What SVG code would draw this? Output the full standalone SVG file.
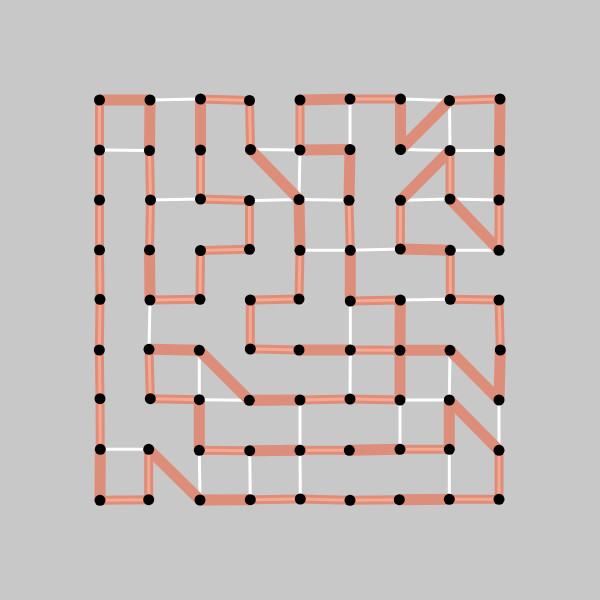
<svg xmlns="http://www.w3.org/2000/svg" xmlns:xlink="http://www.w3.org/1999/xlink" width="600" height="600" viewBox="0 0 600 600">
<style>
.w{stroke:#ffffff;stroke-width:3;fill:none}
.s{stroke:#dd8e7a;stroke-width:11;fill:none}
.p{stroke:#dd8e7a;stroke-width:9;fill:none}
.pi{stroke:#f7a890;stroke-width:3;fill:none}
.n{fill:#000000}
</style>
<rect width="600" height="600" fill="#c8c8c8"/>
<g id="connectors">
<g id="white-edges" class="w">
<line x1="150" y1="100" x2="200.5" y2="99"/>
<line x1="400.5" y1="99" x2="449.5" y2="100.5"/>
<line x1="350" y1="99" x2="350" y2="149.5"/>
<line x1="449.5" y1="100.5" x2="450" y2="150.5"/>
<line x1="99.5" y1="150" x2="149.5" y2="150.5"/>
<line x1="250.5" y1="149.5" x2="300" y2="150"/>
<line x1="400.5" y1="149.5" x2="450" y2="150.5"/>
<line x1="450" y1="150.5" x2="499.5" y2="150.5"/>
<line x1="300" y1="150" x2="299" y2="199.5"/>
<line x1="150.5" y1="200" x2="200.5" y2="199"/>
<line x1="249.5" y1="200.5" x2="299" y2="199.5"/>
<line x1="299" y1="199.5" x2="349" y2="200.3"/>
<line x1="400.5" y1="200.3" x2="450" y2="199"/>
<line x1="450" y1="199" x2="499" y2="200"/>
<line x1="300" y1="250.3" x2="350.3" y2="250.3"/>
<line x1="350.3" y1="250.3" x2="400.3" y2="249"/>
<line x1="450.3" y1="250.3" x2="499" y2="250.3"/>
<line x1="400.3" y1="300" x2="450.3" y2="299.3"/>
<line x1="150" y1="300" x2="149" y2="349.3"/>
<line x1="350.3" y1="301" x2="350.3" y2="350"/>
<line x1="199.3" y1="350.3" x2="199.3" y2="399.7"/>
<line x1="350.3" y1="350" x2="350" y2="399"/>
<line x1="450" y1="350.3" x2="449.3" y2="400"/>
<line x1="199.3" y1="399.7" x2="249.3" y2="400.3"/>
<line x1="400" y1="400" x2="449.3" y2="400"/>
<line x1="300" y1="400" x2="300" y2="450.3"/>
<line x1="400" y1="400" x2="400" y2="449.3"/>
<line x1="499" y1="400" x2="499" y2="450.3"/>
<line x1="100.3" y1="449.3" x2="148.7" y2="449.3"/>
<line x1="199.3" y1="450.3" x2="200" y2="500"/>
<line x1="249.7" y1="450.7" x2="250.3" y2="499.7"/>
<line x1="300" y1="450.3" x2="300.3" y2="499"/>
<line x1="449.3" y1="449.3" x2="449.3" y2="499.3"/>
</g>
<g id="solid-edges" class="s">
<line x1="99.5" y1="100" x2="150" y2="100"/>
<line x1="300" y1="100" x2="350" y2="99"/>
<line x1="150" y1="100" x2="149.5" y2="150.5"/>
<line x1="200.5" y1="99" x2="200.5" y2="150"/>
<line x1="400.5" y1="99" x2="400.5" y2="149.5"/>
<line x1="500" y1="99" x2="499.5" y2="150.5"/>
<line x1="400.5" y1="149.5" x2="449.5" y2="100.5"/>
<line x1="250.5" y1="149.5" x2="299" y2="199.5"/>
<line x1="300" y1="150" x2="350" y2="149.5"/>
<line x1="350" y1="149.5" x2="349" y2="200.3"/>
<line x1="499.5" y1="150.5" x2="499" y2="200"/>
<line x1="450" y1="150.5" x2="400.5" y2="200.3"/>
<line x1="299" y1="199.5" x2="300" y2="250.3"/>
<line x1="450" y1="199" x2="499" y2="250.3"/>
<line x1="400.3" y1="249" x2="450.3" y2="250.3"/>
<line x1="149.5" y1="250" x2="150" y2="300"/>
<line x1="350.3" y1="250.3" x2="350.3" y2="301"/>
<line x1="400.3" y1="300" x2="400" y2="350.3"/>
<line x1="149" y1="349.3" x2="199.3" y2="350.3"/>
<line x1="199.3" y1="350.3" x2="249.3" y2="400.3"/>
<line x1="299" y1="350" x2="350.3" y2="350"/>
<line x1="400" y1="350.3" x2="450" y2="350.3"/>
<line x1="450" y1="350.3" x2="499" y2="400"/>
<line x1="400" y1="350.3" x2="400" y2="400"/>
<line x1="500.3" y1="350" x2="499" y2="400"/>
<line x1="249.3" y1="400.3" x2="300" y2="400"/>
<line x1="199.3" y1="399.7" x2="199.3" y2="450.3"/>
<line x1="449.3" y1="400" x2="449.3" y2="449.3"/>
<line x1="449.3" y1="400" x2="499" y2="450.3"/>
<line x1="148.7" y1="449.3" x2="200" y2="500"/>
<line x1="249.7" y1="450.7" x2="300" y2="450.3"/>
<line x1="349.3" y1="450.3" x2="400" y2="449.3"/>
<line x1="100.3" y1="449.3" x2="100" y2="500.3"/>
<line x1="200" y1="500" x2="250.3" y2="499.7"/>
<line x1="399.3" y1="499.7" x2="449.3" y2="499.3"/>
</g>
<g id="striped-edges">
<defs>
<line id="p1" x1="200.5" y1="99" x2="249.5" y2="100.5"/>
<line id="p2" x1="350" y1="99" x2="400.5" y2="99"/>
<line id="p3" x1="449.5" y1="100.5" x2="500" y2="99"/>
<line id="p4" x1="99.5" y1="100" x2="99.5" y2="150"/>
<line id="p5" x1="249.5" y1="100.5" x2="250.5" y2="149.5"/>
<line id="p6" x1="300" y1="100" x2="300" y2="150"/>
<line id="p7" x1="99.5" y1="150" x2="99.5" y2="200"/>
<line id="p8" x1="149.5" y1="150.5" x2="150.5" y2="200"/>
<line id="p9" x1="200.5" y1="150" x2="200.5" y2="199"/>
<line id="p10" x1="450" y1="150.5" x2="450" y2="199"/>
<line id="p11" x1="200.5" y1="199" x2="249.5" y2="200.5"/>
<line id="p12" x1="99.5" y1="200" x2="99.5" y2="250"/>
<line id="p13" x1="150.5" y1="200" x2="149.5" y2="250"/>
<line id="p14" x1="249.5" y1="200.5" x2="249.5" y2="249.3"/>
<line id="p15" x1="349" y1="200.3" x2="350.3" y2="250.3"/>
<line id="p16" x1="400.5" y1="200.3" x2="400.3" y2="249"/>
<line id="p17" x1="499" y1="200" x2="499" y2="250.3"/>
<line id="p18" x1="200.5" y1="250.5" x2="249.5" y2="249.3"/>
<line id="p19" x1="99.5" y1="250" x2="100" y2="299.3"/>
<line id="p20" x1="200.5" y1="250.5" x2="200" y2="299.3"/>
<line id="p21" x1="300" y1="250.3" x2="299" y2="299"/>
<line id="p22" x1="450.3" y1="250.3" x2="450.3" y2="299.3"/>
<line id="p23" x1="150" y1="300" x2="200" y2="299.3"/>
<line id="p24" x1="250.3" y1="300" x2="299" y2="299"/>
<line id="p25" x1="350.3" y1="301" x2="400.3" y2="300"/>
<line id="p26" x1="450.3" y1="299.3" x2="499" y2="300"/>
<line id="p27" x1="100" y1="299.3" x2="99.3" y2="350"/>
<line id="p28" x1="250.3" y1="300" x2="250.3" y2="349"/>
<line id="p29" x1="499" y1="300" x2="500.3" y2="350"/>
<line id="p30" x1="250.3" y1="349" x2="299" y2="350"/>
<line id="p31" x1="350.3" y1="350" x2="400" y2="350.3"/>
<line id="p32" x1="99.3" y1="350" x2="100" y2="398.7"/>
<line id="p33" x1="149" y1="349.3" x2="150.3" y2="398.7"/>
<line id="p34" x1="150.3" y1="398.7" x2="199.3" y2="399.7"/>
<line id="p35" x1="300" y1="400" x2="350" y2="399"/>
<line id="p36" x1="350" y1="399" x2="400" y2="400"/>
<line id="p37" x1="100" y1="398.7" x2="100.3" y2="449.3"/>
<line id="p38" x1="199.3" y1="450.3" x2="249.7" y2="450.7"/>
<line id="p39" x1="300" y1="450.3" x2="349.3" y2="450.3"/>
<line id="p40" x1="400" y1="449.3" x2="449.3" y2="449.3"/>
<line id="p41" x1="148.7" y1="449.3" x2="148.7" y2="499.7"/>
<line id="p42" x1="499" y1="450.3" x2="499" y2="499.3"/>
<line id="p43" x1="100" y1="500.3" x2="148.7" y2="499.7"/>
<line id="p44" x1="250.3" y1="499.7" x2="300.3" y2="499"/>
<line id="p45" x1="300.3" y1="499" x2="350" y2="500.3"/>
<line id="p46" x1="350" y1="500.3" x2="399.3" y2="499.7"/>
<line id="p47" x1="449.3" y1="499.3" x2="499" y2="499.3"/>
</defs>
<g class="p">
<use xlink:href="#p1"/><use xlink:href="#p2"/><use xlink:href="#p3"/><use xlink:href="#p4"/><use xlink:href="#p5"/><use xlink:href="#p6"/><use xlink:href="#p7"/><use xlink:href="#p8"/><use xlink:href="#p9"/><use xlink:href="#p10"/><use xlink:href="#p11"/><use xlink:href="#p12"/><use xlink:href="#p13"/><use xlink:href="#p14"/><use xlink:href="#p15"/><use xlink:href="#p16"/><use xlink:href="#p17"/><use xlink:href="#p18"/><use xlink:href="#p19"/><use xlink:href="#p20"/><use xlink:href="#p21"/><use xlink:href="#p22"/><use xlink:href="#p23"/><use xlink:href="#p24"/><use xlink:href="#p25"/><use xlink:href="#p26"/><use xlink:href="#p27"/><use xlink:href="#p28"/><use xlink:href="#p29"/><use xlink:href="#p30"/><use xlink:href="#p31"/><use xlink:href="#p32"/><use xlink:href="#p33"/><use xlink:href="#p34"/><use xlink:href="#p35"/><use xlink:href="#p36"/><use xlink:href="#p37"/><use xlink:href="#p38"/><use xlink:href="#p39"/><use xlink:href="#p40"/><use xlink:href="#p41"/><use xlink:href="#p42"/><use xlink:href="#p43"/><use xlink:href="#p44"/><use xlink:href="#p45"/><use xlink:href="#p46"/><use xlink:href="#p47"/>
</g>
<g class="pi">
<use xlink:href="#p1"/><use xlink:href="#p2"/><use xlink:href="#p3"/><use xlink:href="#p4"/><use xlink:href="#p5"/><use xlink:href="#p6"/><use xlink:href="#p7"/><use xlink:href="#p8"/><use xlink:href="#p9"/><use xlink:href="#p10"/><use xlink:href="#p11"/><use xlink:href="#p12"/><use xlink:href="#p13"/><use xlink:href="#p14"/><use xlink:href="#p15"/><use xlink:href="#p16"/><use xlink:href="#p17"/><use xlink:href="#p18"/><use xlink:href="#p19"/><use xlink:href="#p20"/><use xlink:href="#p21"/><use xlink:href="#p22"/><use xlink:href="#p23"/><use xlink:href="#p24"/><use xlink:href="#p25"/><use xlink:href="#p26"/><use xlink:href="#p27"/><use xlink:href="#p28"/><use xlink:href="#p29"/><use xlink:href="#p30"/><use xlink:href="#p31"/><use xlink:href="#p32"/><use xlink:href="#p33"/><use xlink:href="#p34"/><use xlink:href="#p35"/><use xlink:href="#p36"/><use xlink:href="#p37"/><use xlink:href="#p38"/><use xlink:href="#p39"/><use xlink:href="#p40"/><use xlink:href="#p41"/><use xlink:href="#p42"/><use xlink:href="#p43"/><use xlink:href="#p44"/><use xlink:href="#p45"/><use xlink:href="#p46"/><use xlink:href="#p47"/>
</g>
</g>
</g>
<g id="nodes" class="n">
<g id="n0-0"><circle cx="99.5" cy="100" r="5.5"/></g>
<g id="n1-0"><circle cx="150" cy="100" r="5.5"/></g>
<g id="n2-0"><circle cx="200.5" cy="99" r="5.5"/></g>
<g id="n3-0"><circle cx="249.5" cy="100.5" r="5.5"/></g>
<g id="n4-0"><circle cx="300" cy="100" r="5.5"/></g>
<g id="n5-0"><circle cx="350" cy="99" r="5.5"/></g>
<g id="n6-0"><circle cx="400.5" cy="99" r="5.5"/></g>
<g id="n7-0"><circle cx="449.5" cy="100.5" r="5.5"/></g>
<g id="n8-0"><circle cx="500" cy="99" r="5.5"/></g>
<g id="n0-1"><circle cx="99.5" cy="150" r="5.5"/></g>
<g id="n1-1"><circle cx="149.5" cy="150.5" r="5.5"/></g>
<g id="n2-1"><circle cx="200.5" cy="150" r="5.5"/></g>
<g id="n3-1"><circle cx="250.5" cy="149.5" r="5.5"/></g>
<g id="n4-1"><circle cx="300" cy="150" r="5.5"/></g>
<g id="n5-1"><circle cx="350" cy="149.5" r="5.5"/></g>
<g id="n6-1"><circle cx="400.5" cy="149.5" r="5.5"/></g>
<g id="n7-1"><circle cx="450" cy="150.5" r="5.5"/></g>
<g id="n8-1"><circle cx="499.5" cy="150.5" r="5.5"/></g>
<g id="n0-2"><circle cx="99.5" cy="200" r="5.5"/></g>
<g id="n1-2"><circle cx="150.5" cy="200" r="5.5"/></g>
<g id="n2-2"><circle cx="200.5" cy="199" r="5.5"/></g>
<g id="n3-2"><circle cx="249.5" cy="200.5" r="5.5"/></g>
<g id="n4-2"><circle cx="299" cy="199.5" r="5.5"/></g>
<g id="n5-2"><circle cx="349" cy="200.3" r="5.5"/></g>
<g id="n6-2"><circle cx="400.5" cy="200.3" r="5.5"/></g>
<g id="n7-2"><circle cx="450" cy="199" r="5.5"/></g>
<g id="n8-2"><circle cx="499" cy="200" r="5.5"/></g>
<g id="n0-3"><circle cx="99.5" cy="250" r="5.5"/></g>
<g id="n1-3"><circle cx="149.5" cy="250" r="5.5"/></g>
<g id="n2-3"><circle cx="200.5" cy="250.5" r="5.5"/></g>
<g id="n3-3"><circle cx="249.5" cy="249.3" r="5.5"/></g>
<g id="n4-3"><circle cx="300" cy="250.3" r="5.5"/></g>
<g id="n5-3"><circle cx="350.3" cy="250.3" r="5.5"/></g>
<g id="n6-3"><circle cx="400.3" cy="249" r="5.5"/></g>
<g id="n7-3"><circle cx="450.3" cy="250.3" r="5.5"/></g>
<g id="n8-3"><circle cx="499" cy="250.3" r="5.5"/></g>
<g id="n0-4"><circle cx="100" cy="299.3" r="5.5"/></g>
<g id="n1-4"><circle cx="150" cy="300" r="5.5"/></g>
<g id="n2-4"><circle cx="200" cy="299.3" r="5.5"/></g>
<g id="n3-4"><circle cx="250.3" cy="300" r="5.5"/></g>
<g id="n4-4"><circle cx="299" cy="299" r="5.5"/></g>
<g id="n5-4"><circle cx="350.3" cy="301" r="5.5"/></g>
<g id="n6-4"><circle cx="400.3" cy="300" r="5.5"/></g>
<g id="n7-4"><circle cx="450.3" cy="299.3" r="5.5"/></g>
<g id="n8-4"><circle cx="499" cy="300" r="5.5"/></g>
<g id="n0-5"><circle cx="99.3" cy="350" r="5.5"/></g>
<g id="n1-5"><circle cx="149" cy="349.3" r="5.5"/></g>
<g id="n2-5"><circle cx="199.3" cy="350.3" r="5.5"/></g>
<g id="n3-5"><circle cx="250.3" cy="349" r="5.5"/></g>
<g id="n4-5"><circle cx="299" cy="350" r="5.5"/></g>
<g id="n5-5"><circle cx="350.3" cy="350" r="5.5"/></g>
<g id="n6-5"><circle cx="400" cy="350.3" r="5.5"/></g>
<g id="n7-5"><circle cx="450" cy="350.3" r="5.5"/></g>
<g id="n8-5"><circle cx="500.3" cy="350" r="5.5"/></g>
<g id="n0-6"><circle cx="100" cy="398.7" r="5.5"/></g>
<g id="n1-6"><circle cx="150.3" cy="398.7" r="5.5"/></g>
<g id="n2-6"><circle cx="199.3" cy="399.7" r="5.5"/></g>
<g id="n3-6"><circle cx="249.3" cy="400.3" r="5.5"/></g>
<g id="n4-6"><circle cx="300" cy="400" r="5.5"/></g>
<g id="n5-6"><circle cx="350" cy="399" r="5.5"/></g>
<g id="n6-6"><circle cx="400" cy="400" r="5.5"/></g>
<g id="n7-6"><circle cx="449.3" cy="400" r="5.5"/></g>
<g id="n8-6"><circle cx="499" cy="400" r="5.5"/></g>
<g id="n0-7"><circle cx="100.3" cy="449.3" r="5.5"/></g>
<g id="n1-7"><circle cx="148.7" cy="449.3" r="5.5"/></g>
<g id="n2-7"><circle cx="199.3" cy="450.3" r="5.5"/></g>
<g id="n3-7"><circle cx="249.7" cy="450.7" r="5.5"/></g>
<g id="n4-7"><circle cx="300" cy="450.3" r="5.5"/></g>
<g id="n5-7"><circle cx="349.3" cy="450.3" r="5.5"/></g>
<g id="n6-7"><circle cx="400" cy="449.3" r="5.5"/></g>
<g id="n7-7"><circle cx="449.3" cy="449.3" r="5.5"/></g>
<g id="n8-7"><circle cx="499" cy="450.3" r="5.5"/></g>
<g id="n0-8"><circle cx="100" cy="500.3" r="5.5"/></g>
<g id="n1-8"><circle cx="148.7" cy="499.7" r="5.5"/></g>
<g id="n2-8"><circle cx="200" cy="500" r="5.5"/></g>
<g id="n3-8"><circle cx="250.3" cy="499.7" r="5.5"/></g>
<g id="n4-8"><circle cx="300.3" cy="499" r="5.5"/></g>
<g id="n5-8"><circle cx="350" cy="500.3" r="5.5"/></g>
<g id="n6-8"><circle cx="399.3" cy="499.7" r="5.5"/></g>
<g id="n7-8"><circle cx="449.3" cy="499.3" r="5.5"/></g>
<g id="n8-8"><circle cx="499" cy="499.3" r="5.5"/></g>
</g>
</svg>
